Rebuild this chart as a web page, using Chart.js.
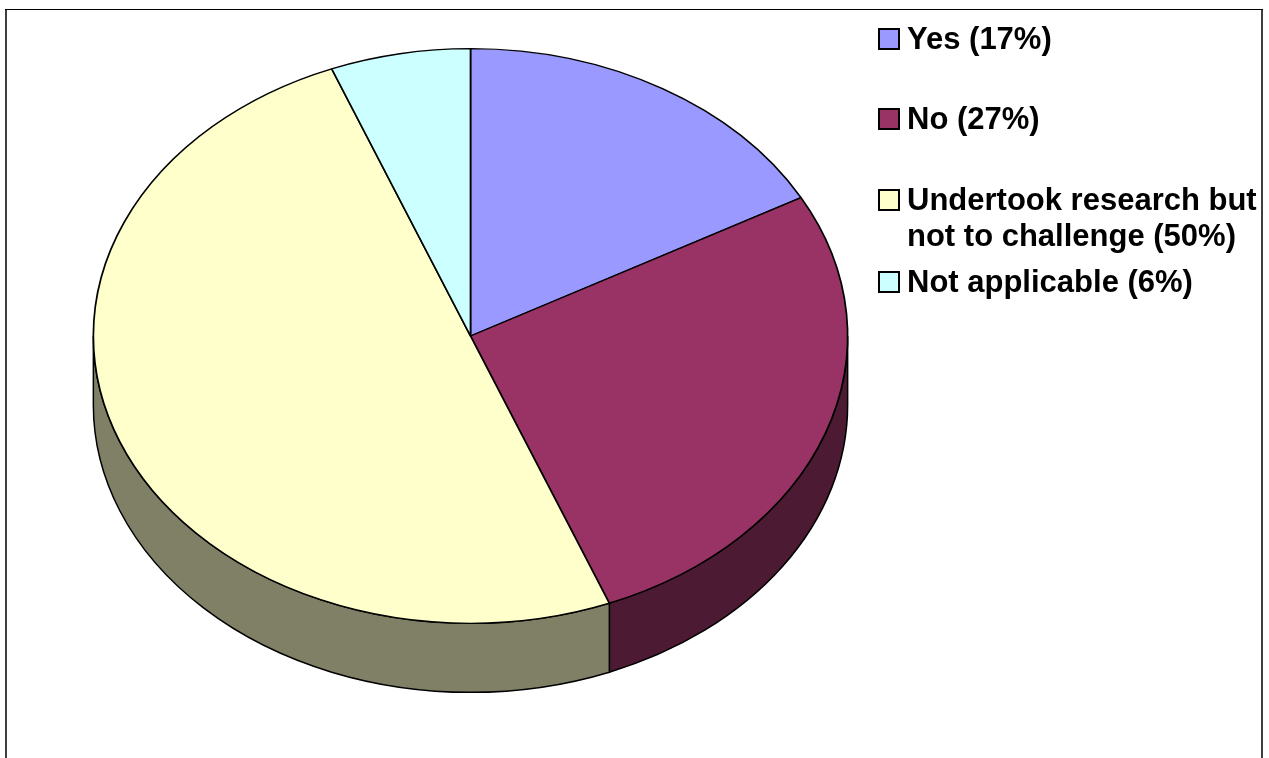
<!DOCTYPE html>
<html>
<head>
<meta charset="utf-8">
<title>Pie chart</title>
<script src="https://cdn.jsdelivr.net/npm/chart.js@4"></script>
<style>
    html, body { margin: 0; padding: 0; background: #fff; overflow: hidden; }
    #wrap { width: 1269px; height: 758px; }
</style>
</head>
<body>
<div id="wrap"><canvas id="pieChart" width="1269" height="758"></canvas></div>
<script>
const categories = ['Yes', 'No', 'Undertook research but not to challenge', 'Not applicable'];
const values = [17, 27, 50, 6];
const topColors = ['#9999ff', '#993366', '#ffffcc', '#ccffff'];
const sideColors = ['#4d4d80', '#4d1a33', '#808066', '#668080'];
const legendLines = [
    ['Yes (17%)'],
    ['No (27%)'],
    ['Undertook research but', 'not to challenge (50%)'],
    ['Not applicable (6%)']
];

// pie is squashed into an ellipse: the circle stays 288 high, x gets stretched
const xStretch = 378 / 288;
const wallDepth = 69;
const legendRows = [49, 129, 210, 292];

const framePlugin = {
    id: 'frame',
    beforeDraw(chart) {
        const ctx = chart.ctx;
        ctx.save();
        ctx.fillStyle = '#404040';
        ctx.fillRect(5, 9, 2, 749);
        ctx.fillRect(1261, 9, 2, 749);
        ctx.fillStyle = '#000';
        ctx.fillRect(5, 9, 1258, 1);
        ctx.restore();
    }
};

// side walls first, then stretch the context so the slices land on top of them
const tiltPlugin = {
    id: 'tilt',
    beforeDatasetsDraw(chart) {
        const ctx = chart.ctx;
        const arcs = chart.getDatasetMeta(0).data;
        ctx.save();
        ctx.lineWidth = 1.5;
        ctx.strokeStyle = '#000';
        arcs.forEach((arc, i) => {
            const p = arc.getProps(['x', 'y', 'startAngle', 'endAngle', 'outerRadius'], true);
            const a = Math.max(p.startAngle, 0);
            const b = Math.min(p.endAngle, Math.PI);
            if (b <= a) return;
            const rx = p.outerRadius * xStretch;
            const ry = p.outerRadius;
            ctx.beginPath();
            ctx.ellipse(p.x, p.y, rx, ry, 0, a, b);
            ctx.ellipse(p.x, p.y + wallDepth, rx, ry, 0, b, a, true);
            ctx.closePath();
            ctx.fillStyle = sideColors[i];
            ctx.fill();
            ctx.stroke();
        });
        ctx.restore();

        const c = arcs[0].getProps(['x', 'y'], true);
        ctx.save();
        ctx.translate(c.x, c.y);
        ctx.scale(xStretch, 1);
        ctx.translate(-c.x, -c.y);
    },
    afterDatasetsDraw(chart) {
        chart.ctx.restore();
    }
};

const legendPlugin = {
    id: 'sideLegend',
    afterDraw(chart) {
        const ctx = chart.ctx;
        ctx.save();
        ctx.font = 'bold 31px "Liberation Sans", Arial, sans-serif';
        ctx.textBaseline = 'alphabetic';
        legendLines.forEach((lines, i) => {
            const base = legendRows[i];
            ctx.fillStyle = topColors[i];
            ctx.strokeStyle = '#000';
            ctx.lineWidth = 2;
            ctx.fillRect(879, base - 20, 20, 20);
            ctx.strokeRect(879, base - 20, 20, 20);
            ctx.fillStyle = '#000';
            lines.forEach((line, j) => ctx.fillText(line, 907, base + j * 36));
        });
        ctx.restore();
    }
};

new Chart(document.getElementById('pieChart'), {
    type: 'pie',
    data: {
        labels: categories,
        datasets: [{
            data: values,
            backgroundColor: topColors,
            borderColor: '#000',
            borderWidth: 1.3,
            clip: false
        }]
    },
    options: {
        responsive: false,
        animation: false,
        layout: {
            padding: { left: 182.5, right: 510.5, top: 48, bottom: 134 }
        },
        plugins: {
            legend: { display: false },
            tooltip: { enabled: false }
        }
    },
    plugins: [framePlugin, tiltPlugin, legendPlugin]
});
</script>
</body>
</html>
